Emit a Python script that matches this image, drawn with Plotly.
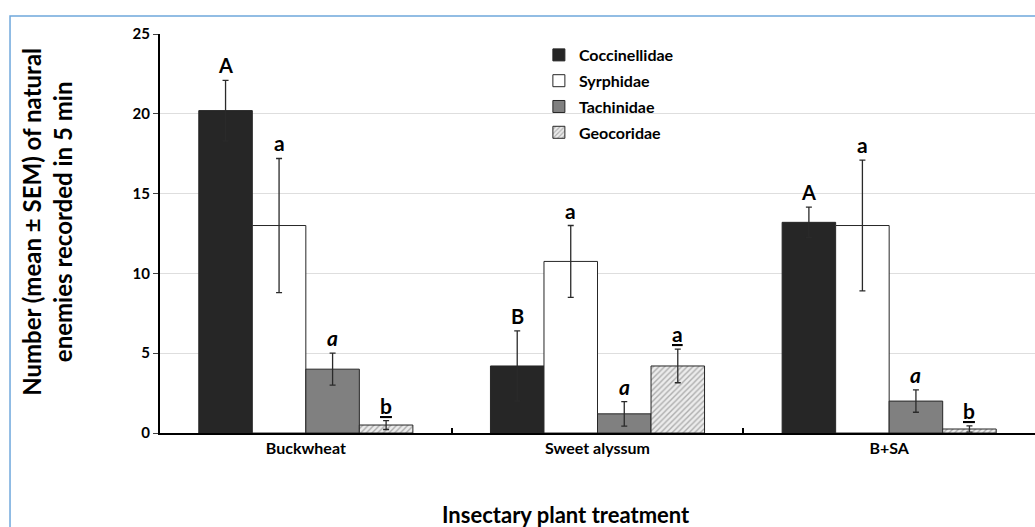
import plotly.graph_objects as go

categories = ["Buckwheat", "Sweet alyssum", "B+SA"]
series_names = ["Coccinellidae", "Syrphidae", "Tachinidae", "Geocoridae"]

coccinellidae = [20.2, 4.2, 13.2]
coccinellidae_sem = [1.9, 2.2, 0.95]
syrphidae = [13.0, 10.75, 13.0]
syrphidae_sem = [4.2, 2.25, 4.1]
tachinidae = [4.0, 1.2, 2.0]
tachinidae_sem = [1.0, 0.77, 0.7]
geocoridae = [0.5, 4.2, 0.25]
geocoridae_sem = [0.28, 1.05, 0.2]

letters_cocc = ["A", "B", "A"]
letters_syrph = ["a", "a", "a"]
letters_tach = ["a", "a", "a"]
letters_geoc = ["b", "a", "b"]

FONT = "Lato, 'Open Sans', sans-serif"
DARK = "#262626"

values = [coccinellidae, syrphidae, tachinidae, geocoridae]
sems = [coccinellidae_sem, syrphidae_sem, tachinidae_sem, geocoridae_sem]
letters = [letters_cocc, letters_syrph, letters_tach, letters_geoc]
fills = ["#262626", "#ffffff", "#808080", "#ffffff"]

fig = go.Figure()
for i, name in enumerate(series_names):
    marker = dict(color=fills[i], line=dict(color=DARK, width=1))
    if name == "Geocoridae":
        marker["pattern"] = dict(shape="/", fgcolor="#6e6e6e", bgcolor="#ececec",
                                 size=4, solidity=0.35)
    fig.add_trace(go.Bar(
        name=name, x=categories, y=values[i],
        marker=marker,
        error_y=dict(type="data", array=sems[i], visible=True,
                     color="#2a2a2a", thickness=1.3, width=3),
        legendgroup=name,
    ))

bargap = 0.266
w = (1 - bargap) / 4
annotations = []
for i in range(4):
    for j in range(3):
        xpos = j - (1 - bargap) / 2 + w * (i + 0.5)
        txt = letters[i][j]
        if i == 0:
            t = f"<b>{txt}</b>"
            size = 20
        elif i == 1:
            t = f"<b>{txt}</b>"
            size = 21
        elif i == 2:
            t = f"<b><i>{txt}</i></b>"
            size = 21
        else:
            t = f"<b><u>{txt}</u></b>"
            size = 21
        annotations.append(dict(
            x=xpos, y=values[i][j] + sems[i][j], xref="x", yref="y",
            text=t, showarrow=False, yanchor="bottom", yshift=1,
            font=dict(family=FONT, size=size, color="black")))

# y-axis title
annotations.append(dict(
    x=-0.13, y=0.53, xref="paper", yref="paper",
    text="<b>Number (mean ± SEM) of natural<br>enemies recorded in 5 min</b>",
    textangle=-90, showarrow=False, xanchor="center", yanchor="middle",
    font=dict(family=FONT, size=24, color="black")))
# x-axis title
annotations.append(dict(
    x=0.464, y=-0.205, xref="paper", yref="paper",
    text="<b>Insectary plant treatment</b>", showarrow=False,
    xanchor="center", yanchor="middle",
    font=dict(family=FONT, size=22, color="black")))

fig.update_layout(
    width=1035, height=527,
    margin=dict(l=160, r=0, t=34, b=94),
    paper_bgcolor="white", plot_bgcolor="white",
    barmode="group", bargap=bargap, bargroupgap=0,
    font=dict(family=FONT, color="black"),
    annotations=annotations,
    legend=dict(x=0.433, y=0.99, xanchor="left", yanchor="top",
                bgcolor="rgba(0,0,0,0)", tracegroupgap=2,
                font=dict(family=FONT, size=16, color="black", weight="bold"),
                itemwidth=30),
    shapes=[dict(type="rect", xref="paper", yref="paper",
                 x0=-0.1714, x1=1.05, y0=-0.3, y1=1.045,
                 line=dict(color="#6fa8dc", width=1.5), fillcolor="rgba(0,0,0,0)",
                 layer="below")],
    showlegend=True,
)
fig.update_xaxes(
    type="category", range=[-0.5, 2.5],
    showline=True, linecolor="black", linewidth=2,
    ticks="inside", tickson="boundaries", ticklen=5, tickwidth=2, tickcolor="black",
    tickfont=dict(family=FONT, size=16, color="black", weight="bold"),
    showgrid=False, zeroline=False,
)
fig.update_yaxes(
    range=[0, 25], dtick=5,
    showline=True, linecolor="black", linewidth=2,
    ticks="outside", ticklen=5, tickcolor="#404040", tickwidth=1,
    tickfont=dict(family=FONT, size=15, color="black", weight="bold"),
    showgrid=True, gridcolor="#dedede", gridwidth=1, zeroline=False,
)

fig.write_html("out.html", config={"displayModeBar": False},
               post_script="document.body.style.margin='0';document.body.style.overflow='hidden';")
